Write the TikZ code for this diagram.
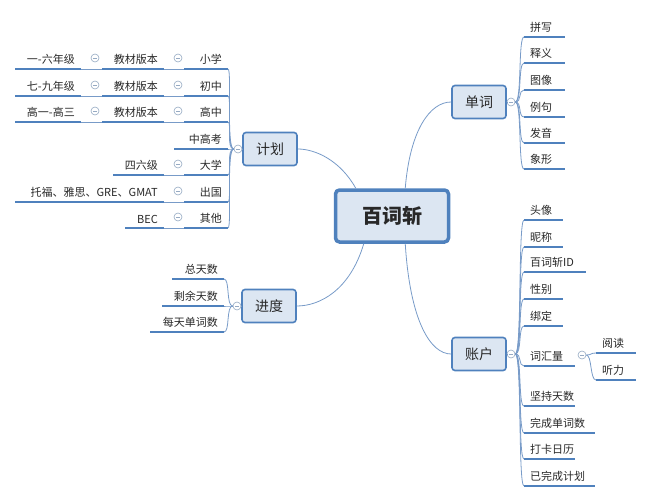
\documentclass[tikz,border=0pt]{standalone}
\usepackage{fontspec}
\setmainfont{Noto Sans CJK SC}
\definecolor{ulc}{RGB}{79,129,189}
\definecolor{conc}{RGB}{120,155,200}
\definecolor{fillc}{RGB}{220,230,242}
\definecolor{knc}{RGB}{150,170,195}
\definecolor{txc}{RGB}{40,40,40}
\begin{document}
\begin{tikzpicture}[x=1pt,y=-1pt,
  ul/.style={draw=ulc, line width=2.2pt},
  con/.style={draw=conc, line width=0.8pt},
  topic/.style={draw=ulc, fill=fillc, line width=1.6pt, rounded corners=3pt, minimum width=54pt, minimum height=33pt, font=\fontsize{14}{16}\selectfont, text=txc},
  central/.style={draw=ulc, fill=fillc, line width=3.5pt, rounded corners=4pt, minimum width=113pt, minimum height=52pt, font=\fontsize{20}{22}\selectfont\bfseries, text=txc},
  ltxt/.style={font=\fontsize{11}{12}\selectfont, text=txc, inner sep=1pt},
  knob/.style={circle, draw=knc, fill=white, line width=0.6pt, minimum size=8pt, inner sep=0pt, path picture={\draw[knc] ([xshift=-2pt]path picture bounding box.center) -- ([xshift=2pt]path picture bounding box.center);}}
]
\useasboundingbox (0,0) rectangle (650,500);
\newcommand\leafR[5]{\coordinate (#1s) at (#2,#4); \coordinate (#1e) at (#3,#4);
  \draw[ul] (#1s) -- (#1e); \node[ltxt, anchor=south west] (#1) at (#2+5,#4-3) {#5};}
\newcommand\leafL[5]{\coordinate (#1s) at (#2,#4); \coordinate (#1e) at (#3,#4);
  \draw[ul] (#1s) -- (#1e); \node[ltxt, anchor=south east] (#1) at (#3-5,#4-3) {#5};}

\node[central] (c) at (392,216) {百词斩};
\node[topic] (dc) at (479,102) {单词};
\node[topic] (jh) at (270,149) {计划};
\node[topic] (jd) at (269,306) {进度};
\node[topic] (zh) at (479,354) {账户};

\draw[con] (c.north west) ++(22,0) .. controls (340,160) and (315,149) .. (jh.east);
\draw[con] (c.north east) ++(-45,0) .. controls (410,130) and (430,102) .. (dc.west);
\draw[con] (c.south west) ++(30,0) .. controls (350,290) and (320,306) .. (jd.east);
\draw[con] (c.south east) ++(-45,0) .. controls (410,320) and (430,354) .. (zh.west);

% 单词
\node[knob] (kdc) at (511,102) {};
\draw[con] (dc.east) -- (kdc);
\foreach \n/\y/\t in {a/37/拼写,b/63/释义,c/90/图像,d/117/例句,e/143/发音,f/169/象形}{
  \leafR{dc\n}{524}{565}{\y}{\t}
  \draw[con] (kdc.east) .. controls (522,102) and (518,\y) .. (dc\n s);
}

% 账户
\node[knob] (kzh) at (511,354) {};
\draw[con] (zh.east) -- (kzh);
\foreach \n/\y/\w/\t in {a/220/563/头像,b/247/563/昵称,c/272/586/百词斩ID,d/299/563/性别,e/326/563/绑定,f/366/575/词汇量,g/406/575/坚持天数,h/433/595/完成单词数,i/459/575/打卡日历,j/486/595/已完成计划}{
  \leafR{zh\n}{524}{\w}{\y}{\t}
  \draw[con] (kzh.east) .. controls (522,354) and (518,\y) .. (zh\n s);
}
\node[knob] (kch) at (582,355) {};
\leafR{cha}{596}{636}{353}{阅读}
\leafR{chb}{596}{636}{380}{听力}
\draw[con] (kch.east) .. controls (592,355) and (590,353) .. (chas);
\draw[con] (kch.east) .. controls (592,355) and (590,380) .. (chbs);

% 进度
\node[knob] (kjd) at (237,306) {};
\draw[con] (jd.west) -- (kjd);
\leafL{jda}{172}{224}{279}{总天数}
\leafL{jdb}{162}{224}{306}{剩余天数}
\leafL{jdc}{150}{224}{332}{每天单词数}
\foreach \n/\y in {a/279,b/306,c/332}{
  \draw[con] (kjd.west) .. controls (226,306) and (230,\y) .. (jd\n e);
}

% 计划
\node[knob] (kjh) at (238,149) {};
\draw[con] (jh.west) -- (kjh);
\leafL{ja}{184}{228}{69}{小学}
\leafL{jb}{184}{228}{96}{初中}
\leafL{jc}{184}{228}{122}{高中}
\leafL{jd4}{174}{228}{149}{中高考}
\leafL{je}{184}{228}{175}{大学}
\leafL{jf}{184}{228}{202}{出国}
\leafL{jg}{184}{228}{228}{其他}
\foreach \n/\y in {a/69,b/96,c/122,d4/149,e/175,f/202,g/228}{
  \draw[con] (kjh.west) .. controls (226,149) and (232,\y) .. (j\n e);
}
\foreach \n/\y/\a in {a/69/一-六年级,b/96/七-九年级,c/122/高一-高三}{
  \node[knob] (kj\n) at (178,\y-11) {};
  \leafL{jv\n}{102}{164}{\y}{教材版本}
  \draw[con] (jv\n e) -- (j\n s);
  \node[knob] (kv\n) at (95,\y-11) {};
  \leafL{jw\n}{15}{81}{\y}{\a}
  \draw[con] (jw\n e) -- (jv\n s);
}
\node[knob] (kje) at (178,164) {};
\leafL{jve}{113}{164}{175}{四六级}
\draw[con] (jvee) -- (jes);
\node[knob] (kjf) at (178,191) {};
\leafL{jvf}{15}{164}{202}{托福、雅思、GRE、GMAT}
\draw[con] (jvfe) -- (jfs);
\node[knob] (kjg) at (178,217) {};
\leafL{jvg}{125}{164}{228}{BEC}
\draw[con] (jvge) -- (jgs);
\end{tikzpicture}
\end{document}
